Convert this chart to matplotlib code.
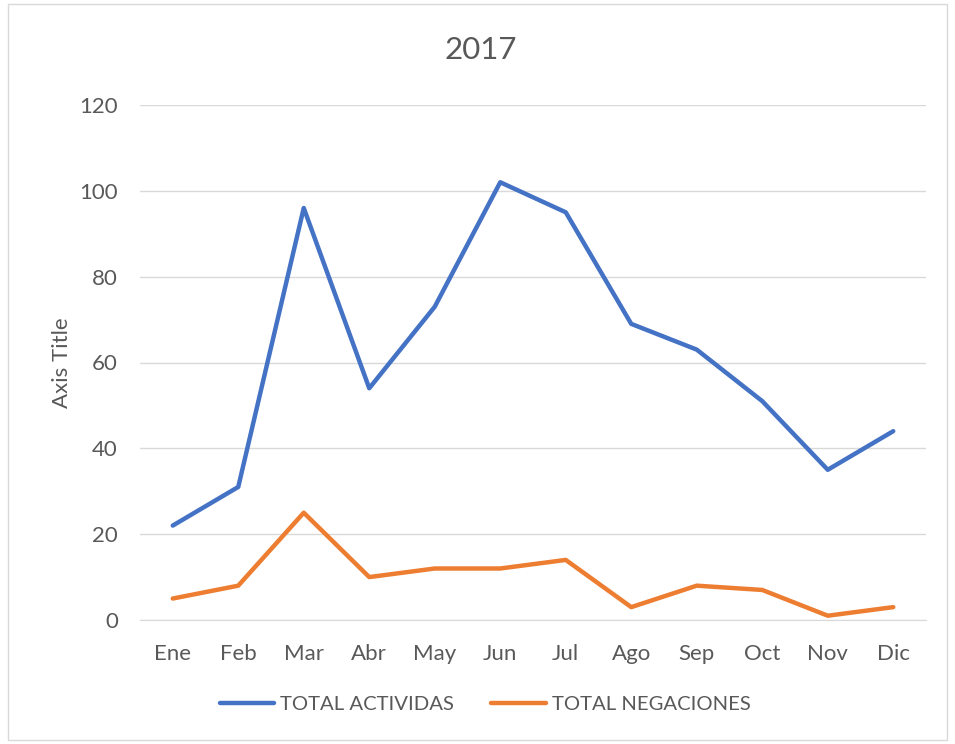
import matplotlib.pyplot as plt
from matplotlib.patches import Rectangle

meses = ['Ene', 'Feb', 'Mar', 'Abr', 'May', 'Jun', 'Jul', 'Ago', 'Sep', 'Oct', 'Nov', 'Dic']
total_actividas = [22, 31, 96, 54, 73, 102, 95, 69, 63, 51, 35, 44]
total_negaciones = [5, 8, 25, 10, 12, 12, 14, 3, 8, 7, 1, 3]

plt.rcParams['font.family'] = ['Lato', 'DejaVu Sans']
gris = '#595959'

fig = plt.figure(figsize=(9.55, 7.44), dpi=100)
ax = fig.add_axes([140 / 955, 1 - 620 / 744, (926 - 140) / 955, (620 - 105) / 744])

x = range(len(meses))
ax.plot(x, total_actividas, color='#4472C4', lw=3.2, label='TOTAL ACTIVIDAS', solid_capstyle='round')
ax.plot(x, total_negaciones, color='#ED7D31', lw=3.2, label='TOTAL NEGACIONES', solid_capstyle='round')

ax.set_xlim(-0.5, 11.5)
ax.set_ylim(0, 120)
ax.set_yticks(range(0, 121, 20))
ax.set_xticks(list(x))
ax.set_xticklabels(meses)
ax.tick_params(colors=gris, labelsize=16, length=0)
ax.tick_params(axis='x', pad=17)
ax.tick_params(axis='y', pad=16)
ax.grid(axis='y', color='#d9d9d9', lw=1)
ax.set_axisbelow(True)
for s in ['top', 'right', 'left']:
    ax.spines[s].set_visible(False)
ax.spines['bottom'].set_color('#d9d9d9')

ax.set_ylabel('Axis Title', color=gris, fontsize=16, labelpad=5)
fig.text(481 / 955, 1 - 50 / 744, '2017', ha='center', va='center', fontsize=22.5, color=gris)

fig.legend(loc='center', bbox_to_anchor=(485 / 955, 1 - 704 / 744), ncol=2, frameon=False,
           fontsize=14.6, labelcolor=gris, handlelength=2.7, handletextpad=0.3, columnspacing=1.8)

fig.patches.append(Rectangle((8 / 955, 4 / 744), 939 / 955, 736 / 744, transform=fig.transFigure,
                             fill=False, edgecolor='#d9d9d9', lw=1))

fig.savefig('out.png', dpi=100)
